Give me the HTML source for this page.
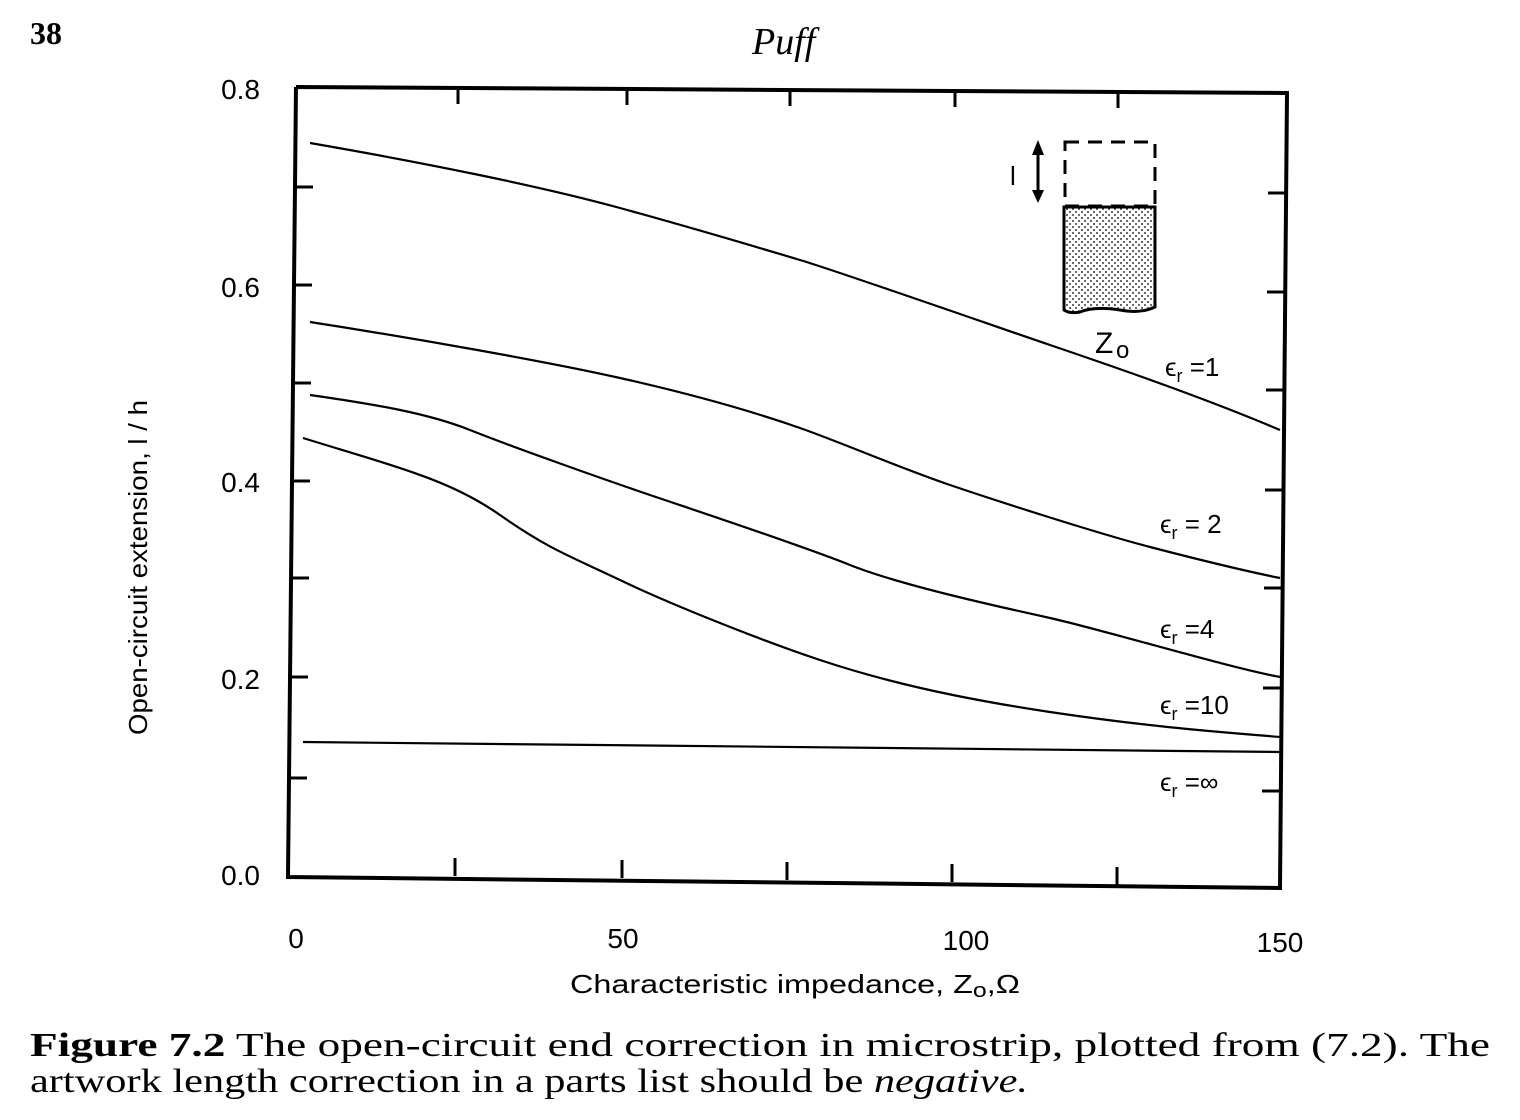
<!DOCTYPE html>
<html><head><meta charset="utf-8"><style>
body{margin:0;background:#fff;}
svg{display:block}
.s{font-family:"Liberation Sans",sans-serif;fill:#000}
.r{font-family:"Liberation Serif",serif;fill:#000}
</style></head><body>
<svg width="1520" height="1120" viewBox="0 0 1520 1120">
<defs><pattern id="dots" width="6" height="6" patternUnits="userSpaceOnUse"><rect width="6" height="6" fill="#fff"/><circle cx="2" cy="2" r="0.9" fill="#000"/><circle cx="5" cy="5" r="0.9" fill="#000"/></pattern></defs>
<text x="30" y="44" class="r" font-size="32" font-weight="bold">38</text>
<text x="752" y="54" class="r" font-size="38" font-style="italic">Puff</text>
<g stroke="#000" stroke-width="4" fill="none">
<polyline points="296,87 1287,93 1280,888 288,877 296,87"/>
<g stroke-width="3">
<line x1="458" y1="88" x2="458" y2="104"/><line x1="627" y1="89" x2="627" y2="105"/><line x1="790" y1="90" x2="790" y2="106"/><line x1="955" y1="91" x2="955" y2="107"/><line x1="1118" y1="92" x2="1118" y2="108"/>
<line x1="455" y1="876" x2="455" y2="858"/><line x1="622" y1="878" x2="622" y2="860"/><line x1="787" y1="880" x2="787" y2="862"/><line x1="952" y1="882" x2="952" y2="864"/><line x1="1117" y1="885" x2="1117" y2="867"/>
<line x1="295" y1="187" x2="313" y2="187"/><line x1="294" y1="285" x2="312" y2="285"/><line x1="293" y1="383" x2="311" y2="383"/><line x1="292" y1="481" x2="310" y2="481"/><line x1="291" y1="578" x2="309" y2="578"/><line x1="290" y1="677" x2="308" y2="677"/><line x1="289" y1="778" x2="307" y2="778"/>
<line x1="1286" y1="193" x2="1268" y2="193"/><line x1="1285" y1="292" x2="1267" y2="292"/><line x1="1284" y1="390" x2="1266" y2="390"/><line x1="1283" y1="490" x2="1265" y2="490"/><line x1="1282" y1="588" x2="1264" y2="588"/><line x1="1281" y1="688" x2="1263" y2="688"/><line x1="1280" y1="791" x2="1262" y2="791"/>
</g>
<g stroke-width="2.2" stroke-linejoin="round">
<path d="M310,143 C420,162 540,186 620,208 S760,248 800,260 S1000,328 1050,345 S1200,396 1280,430"/>
<path d="M310,322 C400,336 540,360 620,378 S760,414 800,428 S900,468 950,485 S1100,534 1150,547 S1240,570 1280,578"/>
<path d="M310,395 C380,405 430,414 470,430 S600,478 650,495 S800,545 850,565 S1000,607 1050,618 S1230,668 1280,677"/>
<path d="M303,438 C400,468 450,480 500,515 S570,556 620,580 S760,640 820,660 S950,697 1050,712 S1220,732 1280,737"/>
<polyline points="303,742 1280,752"/>
</g>
<rect x="1065" y="142" width="90" height="64" stroke-dasharray="14,9" stroke-width="3"/>
<path d="M1064,207 H1155 V307 Q1140,314 1120,310 Q1095,306 1080,312 Q1070,314 1064,310 Z" fill="url(#dots)" stroke-width="3"/>
<line x1="1038" y1="145" x2="1038" y2="200" stroke-width="3"/>
</g>
<path d="M1032,155 L1038,140 L1044,155Z M1032,190 L1038,203 L1044,190Z" fill="#000"/>
<text x="1010" y="185" class="s" font-size="26">l</text>
<text x="1095" y="353" class="s" font-size="30">Z</text><text x="1116" y="358" class="s" font-size="24">o</text>
<g class="s" font-size="26">
<text x="1165" y="376">ϵ<tspan font-size="18" dy="6">r</tspan><tspan dy="-6"> =1</tspan></text>
<text x="1160" y="533">ϵ<tspan font-size="18" dy="6">r</tspan><tspan dy="-6"> = 2</tspan></text>
<text x="1160" y="638">ϵ<tspan font-size="18" dy="6">r</tspan><tspan dy="-6"> =4</tspan></text>
<text x="1160" y="714">ϵ<tspan font-size="18" dy="6">r</tspan><tspan dy="-6"> =10</tspan></text>
<text x="1160" y="791">ϵ<tspan font-size="18" dy="6">r</tspan><tspan dy="-6"> =∞</tspan></text>
</g>
<g class="s" font-size="28" text-anchor="end">
<text x="260" y="99">0.8</text><text x="260" y="297">0.6</text><text x="260" y="492">0.4</text><text x="260" y="689">0.2</text><text x="260" y="885">0.0</text>
</g>
<g class="s" font-size="28" text-anchor="middle">
<text x="296" y="948">0</text><text x="623" y="948">50</text><text x="966" y="950">100</text><text x="1280" y="952">150</text>
</g>
<text x="570" y="993" class="s" font-size="26" textLength="450" lengthAdjust="spacingAndGlyphs">Characteristic impedance, Z<tspan font-size="20" dy="4">o</tspan><tspan dy="-4">,Ω</tspan></text>
<text transform="translate(147,735) rotate(-90)" class="s" font-size="26" textLength="335" lengthAdjust="spacingAndGlyphs">Open-circuit extension, l / h</text>
<text x="30" y="1056" class="r" font-size="34" textLength="1460" lengthAdjust="spacingAndGlyphs"><tspan font-weight="bold">Figure 7.2</tspan> The open-circuit end correction in microstrip, plotted from (7.2).  The</text>
<text x="30" y="1092" class="r" font-size="34" textLength="998" lengthAdjust="spacingAndGlyphs">artwork length correction in a parts list should be <tspan font-style="italic">negative.</tspan></text>
</svg>
</body></html>
